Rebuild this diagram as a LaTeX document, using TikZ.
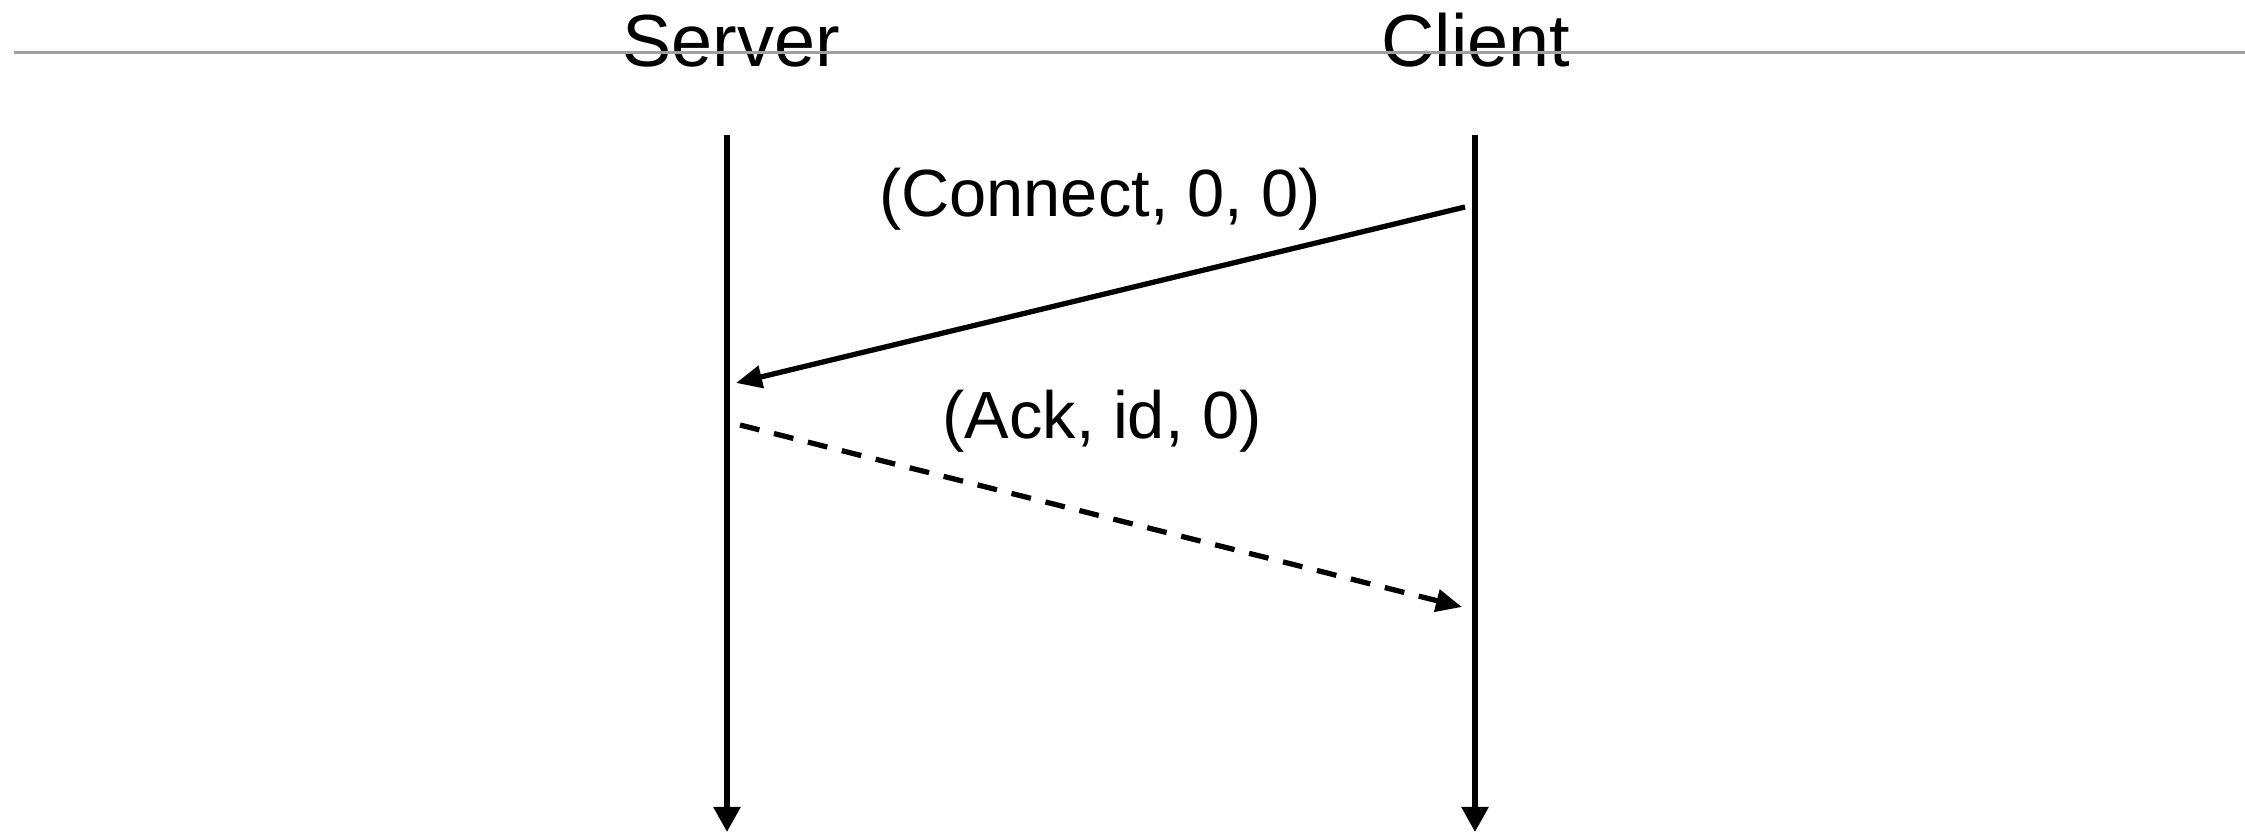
\documentclass[tikz,border=0pt]{standalone}
\usepackage{fontspec}
\setmainfont{Liberation Sans}
\usetikzlibrary{arrows.meta}
\definecolor{rulegray}{HTML}{A0A0A0}
\tikzset{
  party/.style={anchor=base, inner sep=0pt, font=\fontsize{21}{25}\selectfont},
  msglabel/.style={anchor=base, inner sep=0pt, font=\fontsize{19}{23}\selectfont},
  lifeline/.style={line width=1.6pt, -{Triangle[length=0.25cm, width=0.26cm]}},
  msg/.style={line width=1.5pt, -{Triangle[length=0.26cm, width=0.22cm]}},
  reply/.style={msg, dash pattern=on 0.2cm off 0.15cm},
  headrule/.style={rulegray, line width=0.6pt}
}
\begin{document}
\begin{tikzpicture}
  \useasboundingbox (0,0) rectangle (22.45,-8.32);

  % participants
  \node[party] (server) at (7.31,-0.67) {Server};
  \node[party] (client) at (14.76,-0.67) {Client};

  % header rule
  \coordinate (rl0) at (0.14,-0.525);
  \coordinate (rl1) at (22.45,-0.525);
  \draw[headrule] (rl0) -- (rl1);

  % lifelines
  \coordinate (s0) at (7.27,-1.35);
  \coordinate (s1) at (7.27,-8.32);
  \coordinate (c0) at (14.75,-1.35);
  \coordinate (c1) at (14.75,-8.32);
  \draw[lifeline] (s0) -- (s1);
  \draw[lifeline] (c0) -- (c1);

  % connect request
  \coordinate (m1a) at (14.65,-2.07);
  \coordinate (m1b) at (7.36,-3.83);
  \draw[msg] (m1a) -- (m1b);
  \node[msglabel] (lconnect) at (11.00,-2.17) {(Connect, 0, 0)};

  % acknowledgement
  \coordinate (m2a) at (7.40,-4.25);
  \coordinate (m2b) at (14.62,-6.07);
  \draw[reply] (m2a) -- (m2b);
  \node[msglabel] (lack) at (11.02,-4.39) {(Ack, id, 0)};
\end{tikzpicture}
\end{document}
